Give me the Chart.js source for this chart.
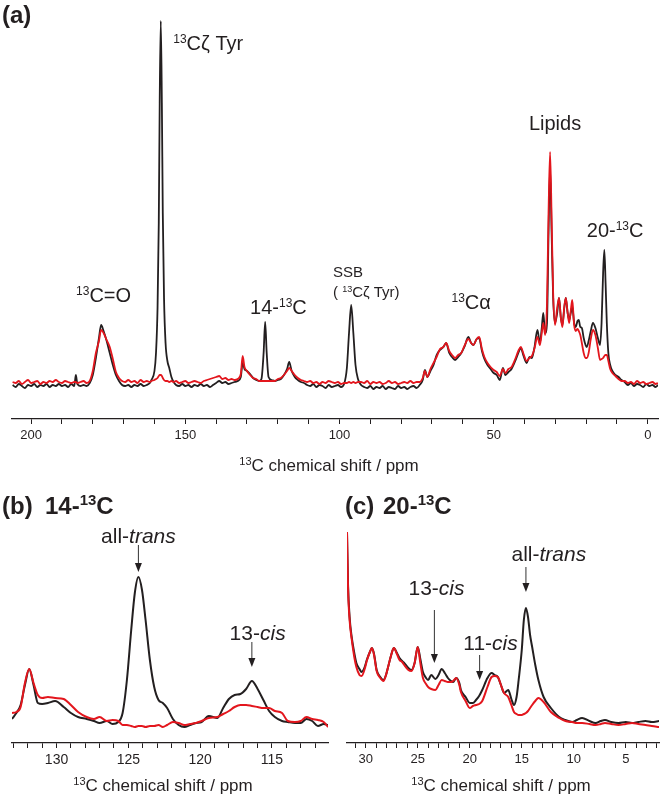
<!DOCTYPE html>
<html>
<head>
<meta charset="utf-8">
<script src="https://cdn.jsdelivr.net/npm/chart.js@4"></script>
<style>
  body { margin: 0; background: #fff; }
  #fig { position: relative; width: 661px; height: 796px; background: #fff; }
  #fig canvas { position: absolute; }
</style>
</head>
<body>
<div id="fig">
  <canvas id="chartA" width="661" height="480" style="left:0;top:0"></canvas>
  <canvas id="chartB" width="336" height="316" style="left:0;top:480px"></canvas>
  <canvas id="chartC" width="325" height="316" style="left:336px;top:480px"></canvas>
</div>
<script>
/* 13C CP-MAS spectra: black = dark state, red = illuminated.
   Intensities are arbitrary units (baseline = 0). */

// ── (a) full spectrum ───────────────────────────────────────────
const aPpm = [
  206,205,204,203,202,201,200,199,198,197,196,195,194,193,192,191,190,189,188,187,186,185.5,185,184,183,182,181,
  180,179,178,177.3,176.5,175.5,174.5,173.5,172.5,171.5,170.5,169.5,168.5,167.5,166.5,165.5,164.5,163.5,162.5,161.5,
  161,160,159.5,159,158.6,158.3,157.95,157.6,157.3,156.9,156.4,155.8,155.2,154.5,153.8,
  153,152,151,150,149,148,147,146,145,144,143,142,141,140,139,138,137,136,135,134,133,
  132,131.4,130.8,130,129,128,127,126,125.3,124.6,124.1,123.6,123,122,121,120,119,118,117,116.3,115.5,114.5,113.5,112.5,111.5,110.5,
  109.5,108.5,107.5,106.5,105.5,104.5,103.5,102.5,101.5,100.5,99.5,98.5,97.6,96.9,96.2,95.5,94.8,94,
  93,92,91,90,89,88,87,86,85,84,83,82,81,80,79,78,77,76,75,74,
  73,72.3,71.5,70.5,69.5,68.5,67.4,66.3,65.4,64.4,63.5,62.5,61.5,60.5,59.5,58.2,57.3,56.6,55.5,54.7,53.8,53,52,51,50,49,48,47,
  46.2,45.2,44.2,43,42,41.2,40.3,39.3,38.4,37.6,36.8,35.8,35,34.4,33.9,33.3,32.7,32.2,31.7,31.2,30.7,30.1,29.4,28.8,28.2,27.7,27.1,26.6,26,25.5,
  25,24.5,23.9,23.4,22.8,22.4,21.9,21.4,20.8,20.2,19.8,19.2,18.5,17.8,17,16.2,15.5,15,14.5,14.1,13.7,13.3,12.8,12.2,11.5,10.5,9.5,8.5,
  7.5,6.5,5.5,4.5,3.5,2.5,1.5,0.5,-0.5,-1.5,-2.5,-3.3
];
const aBlack = [
  -2,-4,-1,-3,-5,-2,-3,-1,-4,-2,-3,-1,-4,-2,-3,-1,-3,-2,-4,-1,-3,8,-1,-3,-2,-3,0,
  8,25,45,58,52,42,30,18,8,2,-2,-3,-2,-4,-2,-3,-1,-3,-2,0,
  3,12,30,75,160,280,362,280,170,85,40,22,15,6,1,
  -2,-3,-1,-3,-2,-4,-2,-3,-1,-3,-2,-4,-2,0,2,0,1,-1,0,1,2,
  6,20,14,12,9,5,3,2,4,30,61,30,6,3,2,3,4,8,14,21,12,6,3,1,0,-2,
  -3,-1,-4,-2,-3,-5,-2,-4,-3,-2,-4,-1,15,50,78,50,18,4,
  -2,-4,-5,-3,-6,-4,-5,-3,-6,-4,-5,-6,-3,-5,-4,-6,-4,-3,-5,-2,
  3,13,6,12,18,28,33,36,40,30,26,23,26,30,36,46,40,38,44,45,32,24,18,14,10,8,3,15,
  8,11,14,22,30,35,27,20,26,25,35,53,40,55,70,50,60,150,215,150,85,60,70,85,65,58,75,85,70,63,
  70,76,60,56,62,63,56,55,45,38,36,42,52,60,55,45,38,60,110,133,100,60,30,18,12,8,6,3,
  1,-2,0,-3,-1,-2,-4,-1,-3,-2,-4,-2
];
const aRed = [
  1,0,2,-1,1,3,0,1,2,-1,1,0,2,1,3,1,0,2,1,0,1,1,0,1,2,0,2,
  12,30,42,53,50,43,36,24,11,5,2,1,3,1,2,0,3,1,2,1,
  2,3,4,5,7,8,8,7,5,3,2,2,1,2,1,
  2,0,1,2,0,1,2,1,0,2,3,4,5,6,7,4,5,3,4,3,4,
  9,27,16,12,8,5,4,2,2,2,2,2,2,2,2,4,5,8,12,15,12,8,5,3,2,1,
  2,0,1,-1,1,0,2,1,0,1,-1,0,0,1,0,1,0,1,
  1,0,2,-1,1,0,1,-1,0,2,0,1,-1,0,1,0,2,0,1,1,
  5,12,6,14,20,26,34,36,40,32,28,25,28,30,37,44,40,38,44,46,34,26,20,16,13,11,7,14,
  10,14,16,24,32,36,29,22,25,27,34,46,38,50,60,48,80,170,231,165,90,58,75,85,65,56,76,85,70,60,
  72,83,58,52,54,52,48,40,30,25,25,30,44,53,48,35,23,24,25,27,28,28,22,14,10,7,4,2,
  2,0,1,-1,2,0,1,-1,0,1,-1,0
];
const aTicks  = [200,190,180,170,160,150,140,130,120,110,100,90,80,70,60,50,40,30,20,10,0];
const aLabels = [200,150,100,50,0];

// ── (b) 14-13C region ───────────────────────────────────────────
const bPpm = [
  133.1,132.8,132.5,132.2,131.9,131.6,131.3,131.0,130.6,130.1,
  129.5,129.0,128.5,127.9,127.4,127.0,126.5,126.1,125.7,125.4,
  125.1,124.8,124.55,124.3,124.05,123.8,123.5,123.2,122.9,122.6,
  122.3,121.9,121.5,121.1,120.7,120.3,119.9,119.4,118.8,118.4,
  118.0,117.6,117.2,116.8,116.4,116.0,115.6,115.2,114.8,114.3,
  113.9,113.4,113.0,112.6,112.2,111.8,111.4,111.1
];
const bBlack = [
  6,12,20,40,56,40,22,21,22,24,
  18,12,8,6,4,2,4,1,3,12,
  45,95,132,148,135,105,65,38,25,22,
  17,6,0,-2,0,2,3,9,7,17,
  26,30,31,36,44,36,25,14,8,4,
  3,2,2,6,4,-1,1,0
];
const bRed = [
  12,13,18,42,56,42,30,27,28,27,
  26,20,13,8,6,8,4,5,4,0,
  0,-1,-2,-1,-1,-2,-1,-1,0,-2,
  0,3,2,0,1,2,4,7,8,11,
  14,18,20,20,19,18,17,17,14,12,
  4,3,4,8,6,5,3,-2
];
const bTicks  = [133,132,131,130,129,128,127,126,125,124,123,122,121,120,119,118,117,116,115,114,113,112];
const bLabels = [130,125,120,115];

// ── (c) 20-13C region ───────────────────────────────────────────
const cPpm = [
  31.8,31.7,31.55,31.35,31.1,30.9,30.6,30.4,30.1,29.9,
  29.6,29.4,29.2,28.95,28.6,28.3,28.05,27.85,27.55,27.3,
  27.0,26.75,26.5,26.3,25.9,25.6,25.3,25.0,24.75,24.5,
  24.2,24.0,23.7,23.3,23.0,22.7,22.4,22.1,21.8,21.6,
  21.3,21.0,20.85,20.4,20.0,19.7,19.4,19.1,18.8,18.3,
  17.9,17.6,17.3,17.0,16.7,16.3,16.0,15.75,15.5,15.3,
  15.0,14.8,14.6,14.4,14.2,14.0,13.7,13.4,12.9,12.2,
  11.4,10.8,10.15,9.7,9.2,8.5,7.9,7.4,7.0,6.4,
  5.7,5.0,4.4,3.8,3.1,2.5,1.8
];
const cBlack = [
  193,140,108,88,72,62,56,53,58,65,
  73,77,71,55,48,45,50,58,70,77,
  72,67,64,62,57,55,62,78,66,53,
  47,45,50,46,50,56,52,47,44,43,
  47,42,35,28,22,22,25,29,35,47,
  52,50,48,40,32,35,26,20,28,45,
  75,105,117,108,90,78,60,45,28,17,
  8,5,3,5,7,4,2,4,5,3,
  2,3,2,3,4,3,4
];
const cRed = [
  193,137,105,86,68,58,50,49,56,64,
  73,77,70,54,47,44,50,58,70,77,
  71,65,63,60,55,54,62,78,62,47,
  41,38,36,35,40,45,44,43,43,44,
  47,40,33,24,17,19,20,21,24,38,
  48,49,48,40,32,28,20,13,11,10,
  10,11,12,14,17,20,24,27,23,13,
  7,4,3,2,2,1,0,1,2,1,
  0,1,2,1,0,-1,-2
];
const cTicks  = [31,30,29,28,27,26,25,24,23,22,21,20,19,18,17,16,15,14,13,12,11,10,9,8,7,6,5,4,3,2];
const cLabels = [30,25,20,15,10,5];

const INK  = "#231f20";
const RED  = "#e3161d";
const FONT = '"Liberation Sans", Arial, Helvetica, sans-serif';

Chart.defaults.font.family = FONT;
Chart.defaults.color = INK;

// text made of runs: ["text", ""|"sup"|"i"]; y is the visual middle of the caps
function rich(ctx, parts, x, y, size, align, weight) {
  const supSize = Math.round(size * 0.62);
  const fontFor = (p) =>
    (p[1] === "i" ? "italic " : "") + weight + " " + (p[1] === "sup" ? supSize : size) + "px " + FONT;
  let w = 0;
  parts.forEach((p) => { ctx.font = fontFor(p); w += ctx.measureText(p[0]).width; });
  let cx = align === "center" ? x - w / 2 : x;
  const base = y + size * 0.36;
  ctx.textAlign = "left";
  ctx.textBaseline = "alphabetic";
  parts.forEach((p) => {
    ctx.font = fontFor(p);
    ctx.fillText(p[0], cx, p[1] === "sup" ? base - size * 0.36 : base);
    cx += ctx.measureText(p[0]).width;
  });
}

function arrow(ctx, x, y1, y2) {
  ctx.lineWidth = 1;
  ctx.beginPath();
  ctx.moveTo(x, y1);
  ctx.lineTo(x, y2 - 6);
  ctx.stroke();
  ctx.beginPath();
  ctx.moveTo(x - 3.5, y2 - 9);
  ctx.lineTo(x + 3.5, y2 - 9);
  ctx.lineTo(x, y2);
  ctx.closePath();
  ctx.fill();
}

const axisTitle = [["13", "sup"], ["C chemical shift / ppm", ""]];

function overlay(cfg) {
  return {
    id: "overlay",
    afterDraw(chart) {
      const ctx = chart.ctx, xs = chart.scales.x, ys = chart.scales.y, ca = chart.chartArea;
      ctx.save();
      ctx.fillStyle = INK;
      ctx.strokeStyle = "#333";
      cfg.notes.forEach((n) =>
        rich(ctx, n.parts, xs.getPixelForValue(n.ppm), ys.getPixelForValue(n.y), n.size, n.align || "center", "normal"));
      cfg.arrows.forEach((a) =>
        arrow(ctx, xs.getPixelForValue(a.ppm), ys.getPixelForValue(a.from), ys.getPixelForValue(a.to)));
      cfg.header.forEach((h) => rich(ctx, h.parts, h.x, h.y, 24, "left", "bold"));
      rich(ctx, axisTitle, (ca.left + ca.right) / 2 + cfg.titleDx, cfg.titleY, 17, "center", "normal");
      ctx.restore();
    },
  };
}

function spectrum(id, cfg) {
  const line = (ys, color, order) => ({
    data: cfg.ppm.map((x, i) => ({ x, y: ys[i] })),
    borderColor: color,
    borderWidth: cfg.lw,
    borderJoinStyle: "round",
    pointRadius: 0,
    tension: cfg.tension,
    cubicInterpolationMode: cfg.mode,
    order,
  });
  return new Chart(document.getElementById(id), {
    type: "line",
    data: { datasets: [line(cfg.black, INK, 1), line(cfg.red, RED, 0)] },
    options: {
      responsive: false,
      animation: false,
      events: [],
      layout: { padding: cfg.pad },
      plugins: { legend: { display: false }, tooltip: { enabled: false } },
      scales: {
        x: {
          type: "linear",
          reverse: true,
          min: cfg.xMin,
          max: cfg.xMax,
          afterBuildTicks: (s) => { s.ticks = cfg.ticks.map((v) => ({ value: v })); },
          afterFit: (s) => { s.height = cfg.axisH; },
          grid: { drawOnChartArea: false, drawTicks: true, tickLength: 5, color: INK, lineWidth: 1 },
          border: { display: true, color: INK, width: 1.3 },
          ticks: {
            autoSkip: false,
            maxRotation: 0,
            padding: 4,
            color: INK,
            font: { size: cfg.tickSize },
            callback: (v) => (cfg.labels.includes(v) ? String(v) : ""),
          },
        },
        y: { display: false, min: cfg.yMin, max: cfg.yMax },
      },
    },
    plugins: [overlay(cfg)],
  });
}

/* ── (a) ─────────────────────────────────────────────────────── */
spectrum("chartA", {
  ppm: aPpm, black: aBlack, red: aRed, ticks: aTicks, labels: aLabels,
  xMin: -3.3, xMax: 206.2, yMin: -36, yMax: 383,
  pad: { left: 12, right: 3, top: 0, bottom: 0 }, axisH: 61, tickSize: 13,
  lw: 1.8, tension: 0.3, mode: "monotone",
  titleY: 465, titleDx: -6,
  header: [{ parts: [["(a)", ""]], x: 2, y: 14 }],
  notes: [
    { parts: [["13", "sup"], ["Cζ Tyr", ""]], ppm: 153.9, y: 340, align: "left", size: 20 },
    { parts: [["13", "sup"], ["C=O", ""]], ppm: 176.5, y: 88, size: 20 },
    { parts: [["14-", ""], ["13", "sup"], ["C", ""]], ppm: 119.8, y: 76, size: 20 },
    { parts: [["SSB", ""]], ppm: 102.1, y: 111, align: "left", size: 15 },
    { parts: [["( ", ""], ["13", "sup"], ["Cζ Tyr)", ""]], ppm: 102.1, y: 91, align: "left", size: 15 },
    { parts: [["13", "sup"], ["Cα", ""]], ppm: 57.3, y: 81, size: 20 },
    { parts: [["Lipids", ""]], ppm: 30.1, y: 260, size: 20 },
    { parts: [["20-", ""], ["13", "sup"], ["C", ""]], ppm: 10.6, y: 153, size: 20 },
  ],
  arrows: [],
});

/* ── (b) ─────────────────────────────────────────────────────── */
spectrum("chartB", {
  ppm: bPpm, black: bBlack, red: bRed, ticks: bTicks, labels: bLabels,
  xMin: 111.1, xMax: 133.1, yMin: -18, yMax: 205,
  pad: { left: 12, right: 8, top: 40, bottom: 0 }, axisH: 53, tickSize: 14,
  lw: 2, tension: 0.4, mode: "monotone",
  titleY: 305, titleDx: -7,
  header: [
    { parts: [["(b)", ""]], x: 2, y: 25 },
    { parts: [["14-", ""], ["13", "sup"], ["C", ""]], x: 45, y: 25 },
  ],
  notes: [
    { parts: [["all-", ""], ["trans", "i"]], ppm: 124.3, y: 190, size: 21 },
    { parts: [["13-", ""], ["cis", "i"]], ppm: 116.0, y: 93, size: 21 },
  ],
  arrows: [
    { ppm: 124.3, from: 180, to: 153 },
    { ppm: 116.4, from: 83, to: 58 },
  ],
});

/* ── (c) ─────────────────────────────────────────────────────── */
spectrum("chartC", {
  ppm: cPpm, black: cBlack, red: cRed, ticks: cTicks, labels: cLabels,
  xMin: 1.8, xMax: 31.8, yMin: -18, yMax: 205,
  pad: { left: 11, right: 1, top: 40, bottom: 0 }, axisH: 53, tickSize: 13,
  lw: 2, tension: 0.4, mode: "monotone",
  titleY: 305, titleDx: -2,
  header: [
    { parts: [["(c)", ""]], x: 9, y: 25 },
    { parts: [["20-", ""], ["13", "sup"], ["C", ""]], x: 47, y: 25 },
  ],
  notes: [
    { parts: [["13-", ""], ["cis", "i"]], ppm: 23.2, y: 138, size: 21 },
    { parts: [["11-", ""], ["cis", "i"]], ppm: 18.0, y: 83, size: 21 },
    { parts: [["all-", ""], ["trans", "i"]], ppm: 12.4, y: 172, size: 21 },
  ],
  arrows: [
    { ppm: 23.4, from: 115, to: 62 },
    { ppm: 19.05, from: 70, to: 45 },
    { ppm: 14.6, from: 158, to: 133 },
  ],
});
</script>
</body>
</html>
